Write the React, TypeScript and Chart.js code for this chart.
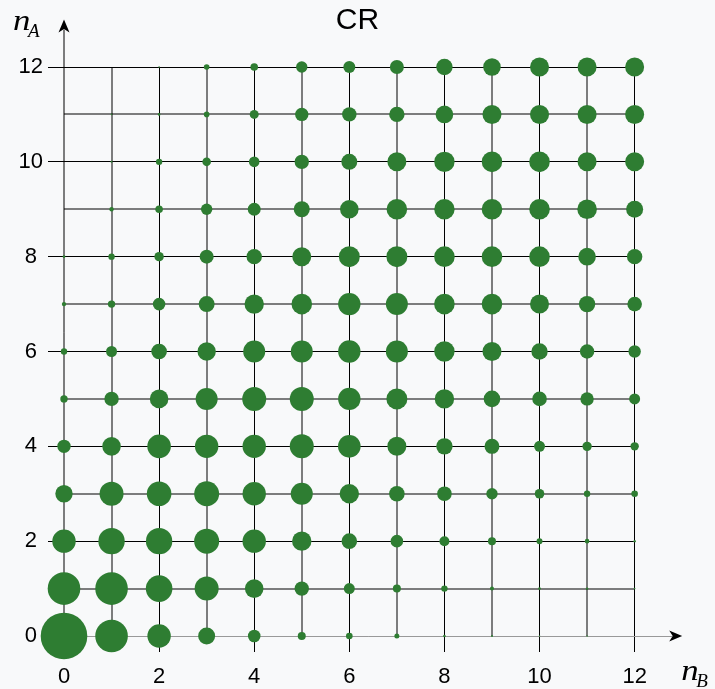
import React, { useEffect, useRef } from "react";
import { Chart, registerables } from "chart.js";

Chart.register(...registerables);

// Lattice coordinates
const nB = [0, 1, 2, 3, 4, 5, 6, 7, 8, 9, 10, 11, 12];
const nA = [0, 1, 2, 3, 4, 5, 6, 7, 8, 9, 10, 11, 12];

// Bubble radius (px) for each n_A row, indexed by n_B
const radiusA0 = [23.3, 16.3, 11.7, 8.5, 6.3, 4.0, 3.3, 2.5, 1.3, 1.0, 0.7, 0.8, 0];
const radiusA1 = [16.3, 16.3, 13.3, 12.0, 9.3, 7.2, 5.5, 4.0, 3.2, 2.0, 1.3, 1.2, 0.8];
const radiusA2 = [11.7, 13.2, 13.2, 12.5, 11.7, 9.7, 7.8, 6.3, 5.0, 4.0, 3.0, 2.3, 1.2];
const radiusA3 = [8.7, 12.0, 12.3, 12.5, 11.7, 11.0, 9.7, 7.8, 7.3, 5.7, 4.8, 3.2, 3.3];
const radiusA4 = [6.7, 9.3, 11.8, 11.7, 11.7, 12.0, 11.3, 9.5, 8.2, 7.5, 5.5, 4.7, 4.2];
const radiusA5 = [3.7, 7.2, 9.3, 11.0, 12.0, 12.0, 11.2, 10.5, 9.7, 8.3, 7.3, 6.7, 5.5];
const radiusA6 = [3.2, 5.5, 7.8, 9.2, 11.0, 11.0, 11.2, 11.0, 10.2, 9.5, 8.2, 7.2, 6.2];
const radiusA7 = [2.2, 3.7, 6.3, 8.0, 9.7, 10.3, 11.2, 11.0, 10.3, 10.3, 9.5, 8.2, 7.3];
const radiusA8 = [1.3, 3.2, 4.7, 7.0, 7.7, 9.5, 10.5, 10.5, 10.3, 10.3, 10.3, 8.8, 7.7];
const radiusA9 = [0, 2.2, 3.8, 5.7, 6.5, 8.0, 9.3, 10.3, 10.2, 10.3, 10.3, 9.8, 8.5];
const radiusA10 = [0, 1.0, 3.2, 4.3, 5.3, 7.2, 8.0, 9.5, 10.2, 10.3, 10.3, 9.5, 9.5];
const radiusA11 = [0, 0.8, 1.3, 2.8, 4.5, 6.7, 7.2, 7.7, 8.8, 9.5, 9.5, 9.5, 9.5];
const radiusA12 = [0, 0, 0.8, 2.8, 3.8, 5.7, 6.0, 7.0, 8.2, 8.8, 9.5, 9.5, 9.5];

const radiusRows = [
  radiusA0, radiusA1, radiusA2, radiusA3, radiusA4, radiusA5, radiusA6,
  radiusA7, radiusA8, radiusA9, radiusA10, radiusA11, radiusA12,
];

const TITLE = "CR";
const TICK_STEP = 2;

const GREEN = "#2e7d32";
const BG = "#f8f9fa";
const TICK_FONT = "Liberation Sans";
const MATH_FONT = "Liberation Serif";

function drawArrowHead(
  ctx: CanvasRenderingContext2D,
  tipX: number,
  tipY: number,
  dirX: number,
  dirY: number
) {
  const len = 13;
  const half = 5.5;
  const notch = 3.5;
  const px = -dirY;
  const py = dirX;
  ctx.beginPath();
  ctx.moveTo(tipX, tipY);
  ctx.lineTo(tipX - dirX * len + px * half, tipY - dirY * len + py * half);
  ctx.lineTo(tipX - dirX * (len - notch), tipY - dirY * (len - notch));
  ctx.lineTo(tipX - dirX * len - px * half, tipY - dirY * len - py * half);
  ctx.closePath();
  ctx.fill();
}

// Lattice lines, axes with arrows, and the n_A / n_B axis titles
const latticePlugin = {
  id: "lattice",
  beforeDraw(chart: any) {
    const { ctx, width, height } = chart;
    ctx.save();
    ctx.fillStyle = BG;
    ctx.fillRect(0, 0, width, height);
    ctx.restore();
  },
  beforeDatasetsDraw(chart: any) {
    const { ctx } = chart;
    const xs = chart.scales.x;
    const ys = chart.scales.y;
    const xMin = nB[0];
    const xMax = nB[nB.length - 1];
    const yMin = nA[0];
    const yMax = nA[nA.length - 1];
    const left = xs.getPixelForValue(xMin);
    const right = xs.getPixelForValue(xMax);
    const bottom = ys.getPixelForValue(yMin);
    const top = ys.getPixelForValue(yMax);

    const crisp = (p: number) => Math.round(p - 0.5) + 0.5;
    const soft = (p: number) => Math.round(p);

    ctx.save();
    ctx.lineWidth = 1;
    ctx.strokeStyle = "#000";

    // vertical lattice lines
    nB.forEach((v) => {
      if (v === xMin) return;
      const p = xs.getPixelForValue(v);
      const xp = v % 2 === 0 ? crisp(p) : soft(p);
      ctx.beginPath();
      ctx.moveTo(xp, bottom);
      ctx.lineTo(xp, top);
      ctx.stroke();
    });

    // horizontal lattice lines
    nA.forEach((v) => {
      if (v === yMin) return;
      const p = ys.getPixelForValue(v);
      const yp = v % 2 === 0 ? crisp(p) : soft(p);
      ctx.beginPath();
      ctx.moveTo(left, yp);
      ctx.lineTo(right, yp);
      ctx.stroke();
    });

    // axes, reaching one step past the lattice
    const xTip = xs.getPixelForValue(xMax + 1);
    const yTip = ys.getPixelForValue(yMax + 1);

    ctx.strokeStyle = "#999";
    ctx.beginPath();
    ctx.moveTo(left, crisp(bottom));
    ctx.lineTo(xTip - 10, crisp(bottom));
    ctx.stroke();

    ctx.strokeStyle = "#000";
    ctx.beginPath();
    ctx.moveTo(soft(left), bottom);
    ctx.lineTo(soft(left), yTip + 10);
    ctx.stroke();

    ctx.fillStyle = "#000";
    drawArrowHead(ctx, xTip, bottom, 1, 0);
    drawArrowHead(ctx, soft(left), yTip, 0, -1);

    // axis titles: italic n with subscript
    ctx.fillStyle = "#000";
    ctx.textBaseline = "alphabetic";
    ctx.textAlign = "left";
    const drawSubLabel = (x: number, y: number, sub: string) => {
      ctx.save();
      ctx.translate(x, y);
      ctx.scale(1.2, 1);
      ctx.font = `italic 29px "${MATH_FONT}"`;
      ctx.fillText("n", 0, 0);
      ctx.restore();
      ctx.font = `italic 19px "${MATH_FONT}"`;
      ctx.fillText(sub, x + 15, y + 7);
    };
    drawSubLabel(13, 30, "A");
    drawSubLabel(xTip - 1, 680, "B");

    ctx.restore();
  },
};

export default function App() {
  const canvasRef = useRef<HTMLCanvasElement | null>(null);

  useEffect(() => {
    document.body.style.margin = "0";
    document.body.style.background = BG;
    const canvas = canvasRef.current;
    if (!canvas) return;

    const points: { x: number; y: number; r: number }[] = [];
    nA.forEach((a, i) => {
      nB.forEach((b, j) => {
        points.push({ x: b, y: a, r: radiusRows[i][j] });
      });
    });

    const chart = new Chart(canvas, {
      type: "bubble",
      data: {
        datasets: [
          {
            data: points,
            backgroundColor: GREEN,
            borderWidth: 0,
            clip: false,
          } as any,
        ],
      },
      options: {
        responsive: false,
        animation: false,
        devicePixelRatio: 1,
        events: [],
        layout: { padding: 0 },
        plugins: {
          legend: { display: false },
          tooltip: { enabled: false },
          title: {
            display: true,
            text: TITLE,
            color: "#000",
            font: { family: TICK_FONT, size: 30, weight: "normal" },
            padding: { top: 3, bottom: 28 },
          },
        },
        scales: {
          x: {
            type: "linear",
            min: 0,
            max: 13.2,
            border: { display: false },
            grid: {
              drawOnChartArea: false,
              drawTicks: true,
              tickLength: 16,
              tickColor: "#000",
              lineWidth: 1,
            },
            ticks: {
              stepSize: TICK_STEP,
              includeBounds: false,
              color: "#000",
              padding: 12,
              maxRotation: 0,
              font: { family: TICK_FONT, size: 22 },
            },
            afterFit(scale: any) {
              scale.height = 53;
            },
          },
          y: {
            type: "linear",
            min: 0,
            max: 12,
            border: { display: false },
            grid: {
              drawOnChartArea: false,
              drawTicks: true,
              tickLength: 16,
              tickColor: "#000",
              lineWidth: 1,
            },
            ticks: {
              stepSize: TICK_STEP,
              color: "#000",
              padding: 5,
              crossAlign: "center",
              font: { family: TICK_FONT, size: 22 },
            },
            afterFit(scale: any) {
              scale.width = 64;
            },
          },
        },
      },
      plugins: [latticePlugin],
    });

    return () => chart.destroy();
  }, []);

  return (
    <div style={{ width: 715, height: 689 }}>
      <canvas ref={canvasRef} width={715} height={689} style={{ display: "block" }} />
    </div>
  );
}
